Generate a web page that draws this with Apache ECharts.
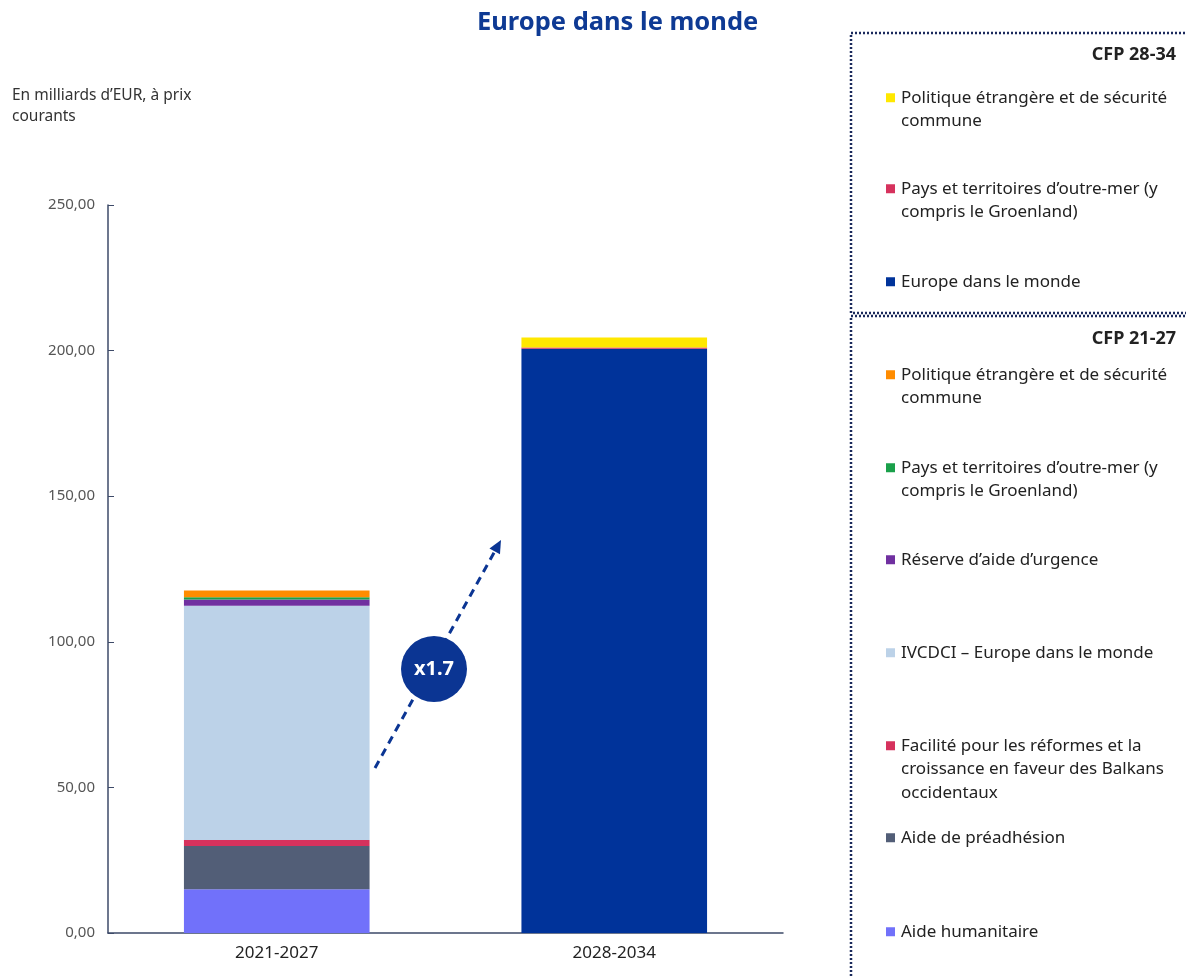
<!DOCTYPE html>
<html>
<head>
<meta charset="utf-8">
<script src="https://cdn.jsdelivr.net/npm/echarts@6/dist/echarts.min.js"></script>
<style>
html,body{margin:0;padding:0;background:#fff;}
#chart{width:1186px;height:977px;}
</style>
</head>
<body>
<div id="chart"></div>
<script>
// ---- Data ----
const categories = ['2021-2027', '2028-2034'];
const yTicks = [0, 50, 100, 150, 200, 250];

// CFP 21-27 (first bar)
const aideHumanitaire = [15.0, null];
const aidePreadhesion = [14.9, null];
const facilitéBalkans = [2.0, null];
const ivcdci = [80.5, null];
const reserveUrgence = [2.1, null];
const ptom2127 = [0.8, null];
const pesc2127 = [2.3, null];
// CFP 28-34 (second bar)
const europeMonde = [null, 200.6];
const ptom2834 = [null, 0.5];
const pesc2834 = [null, 3.4];

const seriesDefs = [
  {key: 'hum', data: aideHumanitaire, color: '#7171fa', label: ['Aide humanitaire']},
  {key: 'pre', data: aidePreadhesion, color: '#525e77', label: ['Aide de préadhésion']},
  {key: 'bal', data: facilitéBalkans, color: '#d6325d', label: ['Facilité pour les réformes et la', 'croissance en faveur des Balkans', 'occidentaux']},
  {key: 'ivc', data: ivcdci, color: '#bcd2e8', label: ['IVCDCI – Europe dans le monde']},
  {key: 'res', data: reserveUrgence, color: '#7030a0', label: ['Réserve d\u2019aide d\u2019urgence']},
  {key: 'ptom27', data: ptom2127, color: '#1aa04a', label: ['Pays et territoires d\u2019outre-mer (y', 'compris le Groenland)']},
  {key: 'pesc27', data: pesc2127, color: '#ff8c00', label: ['Politique étrangère et de sécurité', 'commune']},
  {key: 'eur', data: europeMonde, color: '#00339a', label: ['Europe dans le monde']},
  {key: 'ptom34', data: ptom2834, color: '#d6325d', label: ['Pays et territoires d\u2019outre-mer (y', 'compris le Groenland)']},
  {key: 'pesc34', data: pesc2834, color: '#ffe800', label: ['Politique étrangère et de sécurité', 'commune']}
];

// legend vertical positions (first-line centre)
const legendY = {
  pesc34: 97, ptom34: 188, eur: 281,
  pesc27: 374, ptom27: 467, res: 559, ivc: 652, bal: 745, pre: 837, hum: 931
};

const FONT = '"Noto Sans", "DejaVu Sans", sans-serif';
const LINE_H = 23.5;

const byKey = {};
seriesDefs.forEach(d => byKey[d.key] = d);

const legends = seriesDefs.map(d => ({
  data: [d.key],
  left: 881,
  top: legendY[d.key] - LINE_H / 2 + 4,
  orient: 'vertical',
  padding: 0,
  itemWidth: 0,
  itemHeight: 0,
  icon: 'none',
  selectedMode: false,
  formatter: function (name) {
    const def = byKey[name];
    return def.label.map((ln, i) => (i === 0 ? '{sq|\u00a0}{gap|\u00a0}' : '{pad|\u00a0}') + '{t|' + ln + '}').join('\n');
  },
  textStyle: {
    padding: 0,
    rich: {
      sq: {width: 9, height: 9, backgroundColor: d.color, fontSize: 1, lineHeight: LINE_H},
      gap: {width: 6, fontSize: 1, lineHeight: LINE_H},
      pad: {width: 15, fontSize: 1, lineHeight: LINE_H},
      t: {fontFamily: FONT, fontSize: 17, color: '#222', lineHeight: LINE_H}
    }
  }
}));

const series = seriesDefs.map(d => ({
  name: d.key,
  type: 'bar',
  stack: 'total',
  barWidth: '55%',
  data: d.data,
  itemStyle: {color: d.color},
  emphasis: {disabled: true}
}));

const chart = echarts.init(document.getElementById('chart'), null, {renderer: 'canvas'});

// arrow geometry (annotation)
const tip = [501, 540], tail = [375, 768];
const dx = tip[0] - tail[0], dy = tip[1] - tail[1];
const L = Math.sqrt(dx * dx + dy * dy);
const ux = dx / L, uy = dy / L, nx = -uy, ny = ux;
const headLen = 13, headW = 6;
const bx = tip[0] - headLen * ux, by = tip[1] - headLen * uy;

chart.setOption({
  animation: false,
  title: [
    {
      text: 'Europe dans le monde',
      left: 477,
      top: 10,
      padding: 0,
      textStyle: {fontFamily: FONT, fontSize: 25.5, fontWeight: 'bold', color: '#0e3a94'}
    },
    {
      text: 'En milliards d\u2019EUR, à prix\ncourants',
      left: 12,
      top: 85,
      padding: 0,
      textStyle: {fontFamily: FONT, fontSize: 15.5, fontWeight: 'normal', color: '#333', lineHeight: 21}
    },
    {
      text: 'CFP 28-34',
      right: 10,
      top: 46,
      padding: 0,
      textStyle: {fontFamily: FONT, fontSize: 18, fontWeight: 'bold', color: '#222'}
    },
    {
      text: 'CFP 21-27',
      right: 10,
      top: 330,
      padding: 0,
      textStyle: {fontFamily: FONT, fontSize: 18, fontWeight: 'bold', color: '#222'}
    }
  ],
  legend: legends,
  grid: {left: 108, right: 403, top: 205, bottom: 44, containLabel: false},
  xAxis: {
    type: 'category',
    data: categories,
    axisLine: {lineStyle: {color: '#3d4a68', width: 1.5}},
    axisTick: {inside: true, length: 6, lineStyle: {color: '#3d4a68'}},
    axisLabel: {fontFamily: FONT, fontSize: 17, color: '#222', margin: 12}
  },
  yAxis: {
    type: 'value',
    min: yTicks[0],
    max: yTicks[yTicks.length - 1],
    interval: yTicks[1] - yTicks[0],
    splitLine: {show: false},
    axisLine: {show: true, lineStyle: {color: '#3d4a68', width: 1.5}},
    axisTick: {show: true, inside: true, length: 6, lineStyle: {color: '#3d4a68'}},
    axisLabel: {
      fontFamily: FONT, fontSize: 15, color: '#555', margin: 13,
      formatter: v => v.toFixed(2).replace('.', ',')
    }
  },
  series: series,
  graphic: [
    {
      type: 'rect',
      shape: {x: 851, y: 33, width: 400, height: 280},
      style: {fill: 'none', stroke: '#1b2a5c', lineWidth: 2.5, lineDash: [2, 2]}
    },
    {
      type: 'rect',
      shape: {x: 851, y: 316, width: 400, height: 720},
      style: {fill: 'none', stroke: '#1b2a5c', lineWidth: 2.5, lineDash: [2, 2]}
    },
    {
      type: 'line',
      shape: {x1: tail[0], y1: tail[1], x2: bx, y2: by},
      style: {stroke: '#0b3593', lineWidth: 3, lineDash: [8, 6]}
    },
    {
      type: 'polygon',
      shape: {points: [tip, [bx + headW * nx, by + headW * ny], [bx - headW * nx, by - headW * ny]]},
      style: {fill: '#0b3593'}
    },
    {
      type: 'circle',
      shape: {cx: 434, cy: 669, r: 33},
      style: {fill: '#0b3593'},
      z: 10
    },
    {
      type: 'text',
      x: 434, y: 669,
      z: 11,
      style: {
        text: 'x1.7', fill: '#fff', font: 'bold 20px "Noto Sans", sans-serif',
        align: 'center', verticalAlign: 'middle'
      }
    }
  ]
});
</script>
</body>
</html>
